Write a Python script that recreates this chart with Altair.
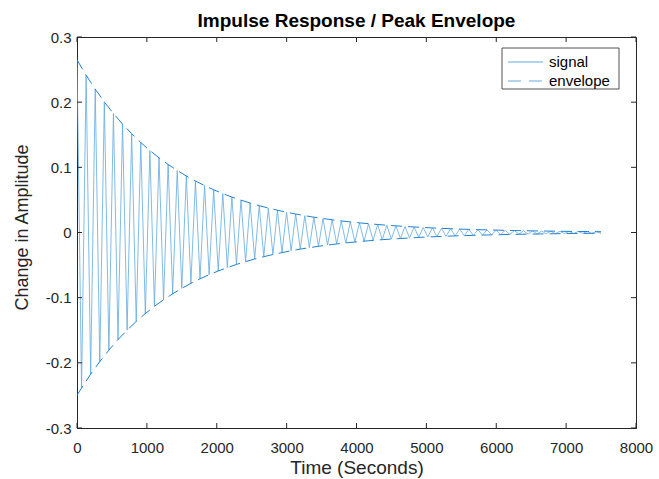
import altair as alt
import pandas as pd

# ---- data ----
half_period = 65.2  # seconds between a crest and the next trough
upper_peaks = [0.2650, 0.2414, 0.2200, 0.2004, 0.1826, 0.1664, 0.1516, 0.1381, 0.1258, 0.1146,
               0.1044, 0.0952, 0.0867, 0.0790, 0.0720, 0.0656, 0.0597, 0.0544, 0.0496, 0.0452,
               0.0412, 0.0375, 0.0342, 0.0311, 0.0284, 0.0258, 0.0235, 0.0214, 0.0195, 0.0178,
               0.0162, 0.0148, 0.0135, 0.0123, 0.0112, 0.0102, 0.0093, 0.0085, 0.0077, 0.0070,
               0.0064, 0.0058, 0.0053, 0.0048, 0.0044, 0.0040, 0.0037, 0.0033, 0.0030, 0.0028,
               0.0025, 0.0023, 0.0021, 0.0019, 0.0017, 0.0016, 0.0015, 0.0013]
lower_peaks = [-0.2386, -0.2174, -0.1981, -0.1805, -0.1644, -0.1498, -0.1365, -0.1244, -0.1133, -0.1032,
               -0.0941, -0.0857, -0.0781, -0.0711, -0.0648, -0.0591, -0.0538, -0.0490, -0.0447, -0.0407,
               -0.0371, -0.0338, -0.0308, -0.0280, -0.0255, -0.0233, -0.0212, -0.0193, -0.0176, -0.0160,
               -0.0146, -0.0133, -0.0121, -0.0110, -0.0101, -0.0092, -0.0084, -0.0076, -0.0069, -0.0063,
               -0.0058, -0.0052, -0.0048, -0.0044, -0.0040, -0.0036, -0.0033, -0.0030, -0.0027, -0.0025,
               -0.0023, -0.0021, -0.0019, -0.0017, -0.0015, -0.0014, -0.0013, -0.0012]
lower_env_start = -0.25   # lower envelope value at t = 0
upper_env_end = 0.0012    # upper envelope value at the end
t_end = 7500

x_ticks = [0, 1000, 2000, 3000, 4000, 5000, 6000, 7000, 8000]
y_ticks = [-0.3, -0.2, -0.1, 0.0, 0.1, 0.2, 0.3]
legend_names = ["signal", "envelope"]

TITLE = "Impulse Response / Peak Envelope"
X_TITLE = "Time (Seconds)"
Y_TITLE = "Change in Amplitude"

SIG_COLOR = "#62aadf"
ENV_COLOR = "#2282d2"
INK = "#262626"
FONT = "Liberation Sans"

W, H = 559, 391

# ---- tables ----
sig_rows = []
for i in range(len(upper_peaks)):
    sig_rows.append({"t": 2 * i * half_period, "v": upper_peaks[i]})
    sig_rows.append({"t": (2 * i + 1) * half_period, "v": lower_peaks[i]})
signal = pd.DataFrame(sig_rows)

env_rows = []
for i, v in enumerate(upper_peaks):
    env_rows.append({"t": 2 * i * half_period, "v": v, "side": "upper"})
env_rows.append({"t": t_end, "v": upper_env_end, "side": "upper"})
env_rows.append({"t": 0, "v": lower_env_start, "side": "lower"})
for i, v in enumerate(lower_peaks):
    env_rows.append({"t": (2 * i + 1) * half_period, "v": v, "side": "lower"})
envelope = pd.DataFrame(env_rows)

xs = alt.Scale(domain=[0, 8000], nice=False, zero=False)
ys = alt.Scale(domain=[-0.3, 0.3], nice=False, zero=False)

y_label_expr = ("abs(datum.value) < 1e-9 ? '0' : (datum.value < 0 ? '-' + format(-datum.value, '.1f') "
                ": format(datum.value, '.1f'))")

x_axis = alt.Axis(values=x_ticks, format="d", tickSize=0, grid=False, labelPadding=12,
                  labelFlush=False, labelFontSize=15, titleFontSize=19, titlePadding=3,
                  labelColor=INK, titleColor=INK, domainColor=INK,
                  labelFont=FONT, titleFont=FONT, titleFontWeight="normal")
y_axis = alt.Axis(values=y_ticks, tickSize=0, grid=False, labelPadding=6,
                  labelFlush=False, labelExpr=y_label_expr,
                  labelFontSize=15, titleFontSize=18, titlePadding=14, titleY=190,
                  labelColor=INK, titleColor=INK, domainColor=INK,
                  labelFont=FONT, titleFont=FONT, titleFontWeight="normal")

def X():
    return alt.X("t:Q", scale=xs, title=X_TITLE, axis=x_axis)

def Y():
    return alt.Y("v:Q", scale=ys, title=Y_TITLE, axis=y_axis)

sig_layer = alt.Chart(signal).mark_line(color=SIG_COLOR, strokeWidth=0.8, clip=True).encode(
    x=X(), y=Y(), order="t:Q")

env_layer = alt.Chart(envelope).mark_line(color=ENV_COLOR, strokeWidth=1, strokeDash=[11, 6], clip=True).encode(
    x=X(), y=Y(), detail="side:N", order="t:Q")

xt = pd.DataFrame({"t": x_ticks})
yt = pd.DataFrame({"v": y_ticks})
tick_kw = dict(color=INK, strokeWidth=1)
bottom_ticks = alt.Chart(xt).mark_rule(**tick_kw).encode(
    x=X(), y=alt.value(H), y2=alt.value(H - 5))
top_ticks = alt.Chart(xt).mark_rule(**tick_kw).encode(
    x=X(), y=alt.value(0), y2=alt.value(5))
left_ticks = alt.Chart(yt).mark_rule(**tick_kw).encode(
    y=Y(), x=alt.value(0), x2=alt.value(5))
right_ticks = alt.Chart(yt).mark_rule(**tick_kw).encode(
    y=Y(), x=alt.value(W), x2=alt.value(W - 5))

# ---- legend box (top right) ----
lg = pd.DataFrame({"name": legend_names})
LX, LY, LW, LH = 425, 11, 117, 41
box = alt.Chart(lg.head(1)).mark_rect(fill="white", stroke=INK, strokeWidth=0.8).encode(
    x=alt.value(LX), x2=alt.value(LX + LW), y=alt.value(LY), y2=alt.value(LY + LH))
leg_sig = alt.Chart(lg.head(1)).mark_rule(color=SIG_COLOR, strokeWidth=1).encode(
    x=alt.value(LX + 6), x2=alt.value(LX + 41), y=alt.value(LY + 14))
leg_env = alt.Chart(lg.tail(1)).mark_rule(color=SIG_COLOR, strokeWidth=1, strokeDash=[13, 8]).encode(
    x=alt.value(LX + 6), x2=alt.value(LX + 41), y=alt.value(LY + 33))
txt_kw = dict(align="left", baseline="middle", font=FONT, fontSize=15, color="black")
leg_txt1 = alt.Chart(lg.head(1)).mark_text(**txt_kw).encode(
    x=alt.value(LX + 47), y=alt.value(LY + 14), text="name:N")
leg_txt2 = alt.Chart(lg.tail(1)).mark_text(**txt_kw).encode(
    x=alt.value(LX + 47), y=alt.value(LY + 33), text="name:N")

chart = alt.layer(
    sig_layer, env_layer, bottom_ticks, top_ticks, left_ticks, right_ticks,
    box, leg_sig, leg_env, leg_txt1, leg_txt2
).properties(
    width=W, height=H,
    title=alt.Title(TITLE, font=FONT, fontSize=19, fontWeight="bold", color="black",
                    anchor="middle", offset=8, dy=9),
    autosize=alt.AutoSizeParams(type="none"),
    padding={"left": 77, "top": 37, "right": 23, "bottom": 51},
    background="white",
).configure_view(stroke=INK, strokeWidth=1)

chart.save("out.html", embed_options={"renderer": "svg", "actions": False})
